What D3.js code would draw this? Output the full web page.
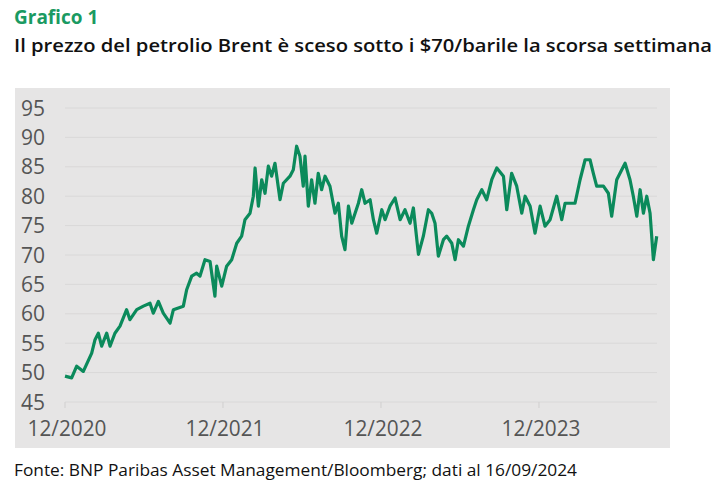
<!DOCTYPE html>
<html><head><meta charset="utf-8">
<script src="https://cdn.jsdelivr.net/npm/d3@7"></script>
<style>body{margin:0;background:#fff;}svg{display:block;font-family:"Open Sans",sans-serif;}</style>
</head><body><svg width="725" height="492"></svg>
<script>
// years elapsed since 12/2020
const yrs = [0,.042,.074,.116,.169,.190,.211,.232,.264,.285,.316,.348,.390,.411,.454,.496,.538,.559,.591,.622,.665,.686,.749,.770,.802,.833,.854,.886,.918,.949,.960,.992,1.023,1.055,1.087,1.118,1.139,1.171,1.192,1.203,1.224,1.245,1.266,1.287,1.308,1.329,1.361,1.382,1.424,1.445,1.466,1.487,1.508,1.519,1.540,1.561,1.582,1.603,1.624,1.646,1.677,1.709,1.730,1.751,1.772,
  1.794,1.815,1.857,1.878,1.899,1.931,1.952,1.973,2.005,2.026,2.057,2.089,2.121,2.152,2.184,2.205,2.237,2.268,2.300,2.321,2.342,2.363,2.395,2.416,2.448,2.469,2.490,2.522,2.553,2.585,2.606,2.638,2.669,2.701,2.733,2.775,2.796,2.827,2.859,2.891,2.912,2.944,2.975,3.007,3.038,3.070,3.112,3.144,3.165,3.197,3.228,3.260,3.292,3.323,3.344,3.365,3.408,3.439,3.460,3.492,3.524,3.545,3.576,3.597,3.619,3.640,3.661,3.682,3.703,3.724,3.745];
const brent = [49.4,49.1,51.1,50.2,53.3,55.6,56.7,54.5,56.7,54.5,56.7,57.9,60.7,59.0,60.7,61.3,61.8,60.1,62.1,60.1,58.4,60.7,61.3,64.1,66.4,66.9,66.4,69.2,68.9,63.0,68.1,64.7,68.1,69.2,72.0,73.2,76.0,77.1,80.0,84.8,78.3,82.8,80.5,85.1,83.4,85.6,79.4,82.2,83.4,84.5,88.5,86.8,81.7,86.8,78.3,82.8,78.8,83.9,81.1,83.4,81.7,77.1,78.8,73.2,70.9,
  78.3,75.4,78.8,81.1,78.8,79.4,76.0,73.7,77.7,76.0,78.3,79.7,76.0,77.7,75.4,78.0,70.1,73.2,77.7,77.1,75.4,69.8,72.6,73.2,72.0,69.2,72.6,71.5,74.9,77.7,79.4,81.1,79.4,82.8,84.8,83.4,77.7,83.9,81.7,77.1,80.0,78.3,73.7,78.3,74.9,76.0,80.0,76.0,78.8,78.8,78.8,82.8,86.2,86.2,83.9,81.7,81.7,80.5,76.6,82.8,84.5,85.6,82.8,80.0,76.6,81.1,77.1,80.0,77.1,69.2,73.2];
const yTicks = [45,50,55,60,65,70,75,80,85,90,95];
const xTickYrs = [0,1,2,3];
const xTickLabels = ["12/2020","12/2021","12/2022","12/2023"];

const svg = d3.select("svg");
const green = "#0b8a5b";

svg.append("text").attr("x",14).attr("y",24).attr("fill","#1a9a62")
  .attr("font-size",19).attr("font-weight","bold").text("Grafico 1");
svg.append("text").attr("x",14).attr("y",52).attr("fill","#111")
  .attr("font-size",18.5).attr("font-weight","600").attr("textLength",698).attr("lengthAdjust","spacingAndGlyphs")
  .text("Il prezzo del petrolio Brent è sceso sotto i $70/barile la scorsa settimana");

svg.append("rect").attr("x",15).attr("y",88).attr("width",655).attr("height",360).attr("fill","#e6e5e5");

const x = d3.scaleLinear().domain([0,3.745]).range([65,656.7]);
const y = d3.scaleLinear().domain([45,95]).range([402,108]);

svg.append("g").selectAll("line").data(yTicks).enter().append("line")
  .attr("x1",65).attr("x2",657).attr("y1",d=>y(d)).attr("y2",d=>y(d))
  .attr("stroke","#d9d8d8").attr("stroke-width",1);
svg.append("g").selectAll("text").data(yTicks).enter().append("text")
  .attr("x",21).attr("y",d=>y(d)+7.5).attr("fill","#555").attr("font-size",21).text(d=>d);

svg.append("g").selectAll("line").data(xTickYrs).enter().append("line")
  .attr("x1",d=>x(d)).attr("x2",d=>x(d)).attr("y1",402).attr("y2",408)
  .attr("stroke","#d0cfcf");
svg.append("g").selectAll("text").data(xTickYrs).enter().append("text")
  .attr("x",d=>x(d)+2).attr("y",436).attr("text-anchor","middle").attr("fill","#555").attr("font-size",21)
  .attr("textLength",79).attr("lengthAdjust","spacingAndGlyphs")
  .text((d,i)=>xTickLabels[i]);

const line = d3.line().x((d,i)=>x(yrs[i])).y(d=>y(d));
svg.append("path").datum(brent).attr("d",line).attr("fill","none")
  .attr("stroke",green).attr("stroke-width",3.2).attr("stroke-linejoin","round");

svg.append("text").attr("x",14).attr("y",476).attr("fill","#111").attr("font-size",16)
  .attr("textLength",563).attr("lengthAdjust","spacingAndGlyphs")
  .text("Fonte: BNP Paribas Asset Management/Bloomberg; dati al 16/09/2024");
</script></body></html>
